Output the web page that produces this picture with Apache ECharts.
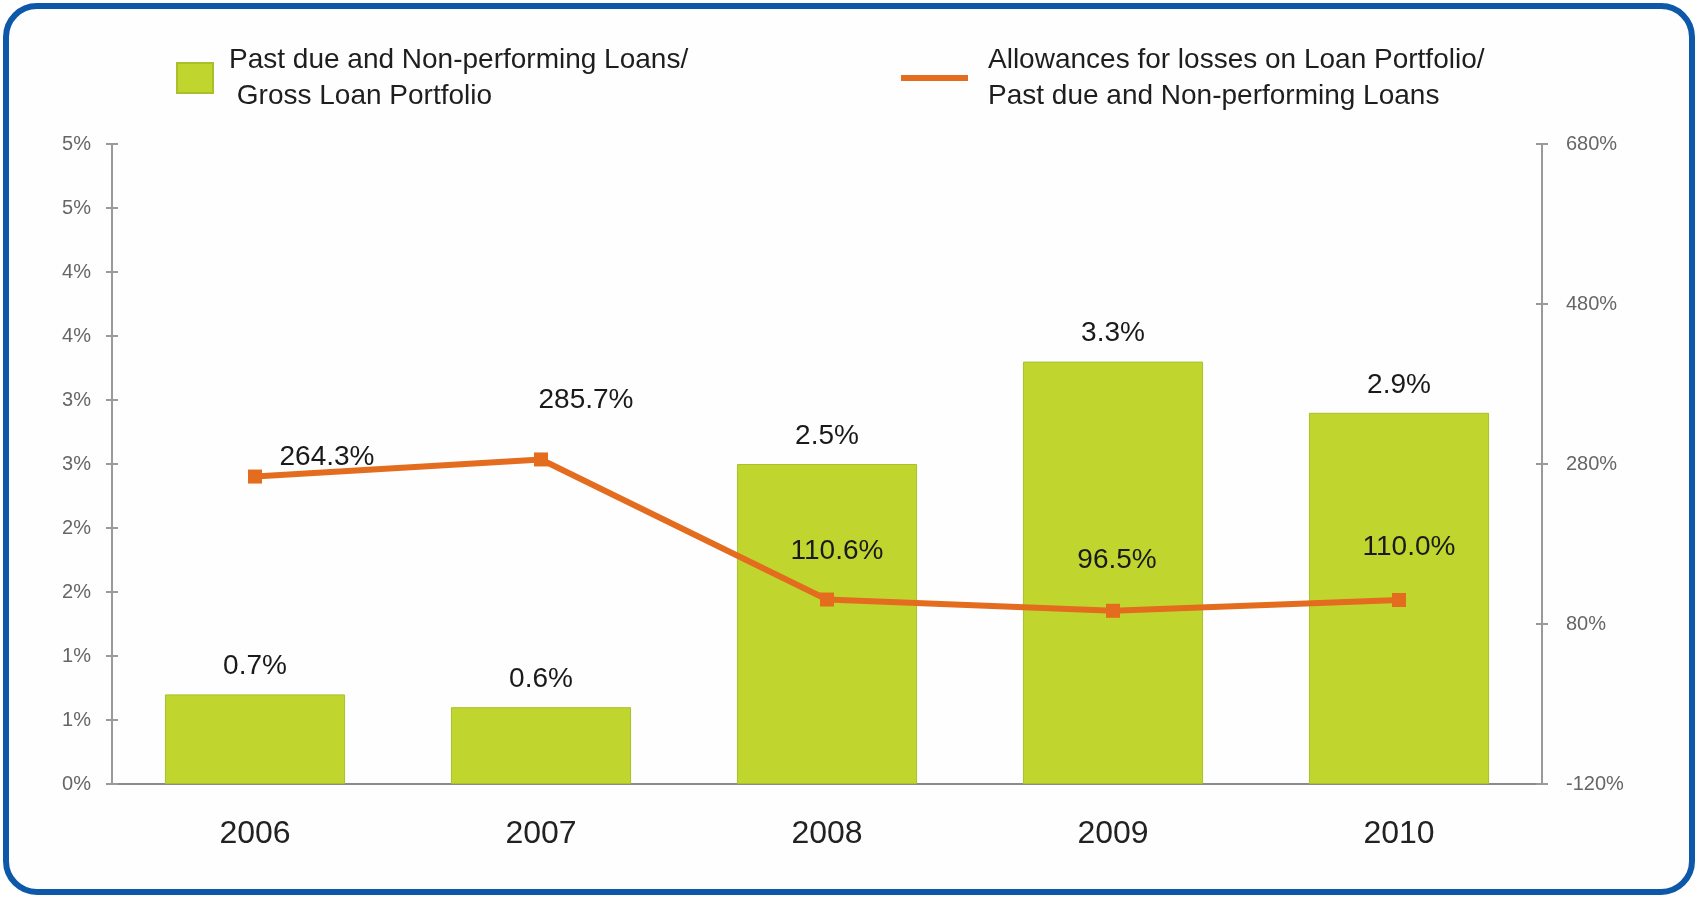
<!DOCTYPE html>
<html>
<head>
<meta charset="utf-8">
<title>Loan Portfolio Quality</title>
<script src="https://cdn.jsdelivr.net/npm/echarts@6/dist/echarts.min.js"></script>
<style>
  html, body { margin: 0; padding: 0; background: #ffffff; }
  #frame {
    position: absolute; left: 3px; top: 3px; width: 1692px; height: 892px;
    box-sizing: border-box; border: 6px solid #0D58A8; border-radius: 34px;
    background: #fefefe;
  }
  #chart { position: absolute; left: 0; top: 0; width: 1698px; height: 897px; }
</style>
</head>
<body>
<div id="frame"></div>
<div id="chart"></div>
<script>
// Years on the category axis
const years = ['2006', '2007', '2008', '2009', '2010'];
// Past due and non-performing loans / gross loan portfolio (%)
const pastDueRatio = [0.7, 0.6, 2.5, 3.3, 2.9];
// Allowances for losses / past due and non-performing loans (%)
const allowanceCoverage = [264.3, 285.7, 110.6, 96.5, 110.0];
// Tick labels of the left and right value axes
const leftTickLabels = ['0%', '1%', '1%', '2%', '2%', '3%', '3%', '4%', '4%', '5%', '5%'];
const rightTickLabels = ['-120%', '80%', '280%', '480%', '680%'];

// Label placement for the coverage line, relative to each point
const coverageLabelOffsets = [[72, -19], [45, -59], [10, -48], [4, -51], [10, -53]];

const barName = 'Past due and Non-performing Loans/\n Gross Loan Portfolio';
const lineName = 'Allowances for losses on Loan Portfolio/\nPast due and Non-performing Loans';
const FONT = '"Liberation Sans", Arial, sans-serif';

const chart = echarts.init(document.getElementById('chart'), null, { renderer: 'canvas' });

const leftAxisBase = { type: 'value', min: 0, max: 5, interval: 0.5, position: 'left' };
const rightAxisBase = { type: 'value', min: -120, max: 680, interval: 200, position: 'right' };

chart.setOption({
  animation: false,
  backgroundColor: 'transparent',
  textStyle: { fontFamily: FONT },
  legend: [
    {
      data: [barName],
      left: 171, top: 37,
      itemWidth: 36, itemHeight: 30,
      icon: 'rect',
      textStyle: { fontSize: 28, lineHeight: 36, color: '#1e1e1e', fontFamily: FONT, padding: [0, 0, 0, 11] }
    },
    {
      data: [lineName],
      left: 896, top: 37,
      itemWidth: 67, itemHeight: 6,
      icon: 'rect',
      textStyle: { fontSize: 28, lineHeight: 36, color: '#1e1e1e', fontFamily: FONT, padding: [0, 0, 0, 15] }
    }
  ],
  grid: { left: 112, right: 156, top: 144, bottom: 113, containLabel: false },
  xAxis: {
    type: 'category',
    data: years,
    axisLine: { lineStyle: { color: '#8a8a8a', width: 2 } },
    axisTick: { show: false },
    axisLabel: { fontSize: 32, color: '#222', margin: 34, fontFamily: FONT },
    splitLine: { show: false }
  },
  yAxis: [
    Object.assign({}, leftAxisBase, {
      axisLine: { show: true, lineStyle: { color: '#9a9a9a', width: 2 } },
      axisTick: { show: true, length: 6, lineStyle: { color: '#9a9a9a', width: 2 } },
      axisLabel: {
        fontSize: 20, color: '#666', margin: 21, fontFamily: FONT,
        formatter: (v) => leftTickLabels[Math.round(v / 0.5)]
      },
      splitLine: { show: false }
    }),
    Object.assign({}, rightAxisBase, {
      axisLine: { show: true, lineStyle: { color: '#9a9a9a', width: 2 } },
      axisTick: { show: true, length: 6, lineStyle: { color: '#9a9a9a', width: 2 } },
      axisLabel: {
        fontSize: 20, color: '#666', margin: 24, fontFamily: FONT,
        formatter: (v) => rightTickLabels[Math.round((v + 120) / 200)]
      },
      splitLine: { show: false }
    }),
    // inner halves of the tick marks, so each tick crosses its axis line
    Object.assign({}, leftAxisBase, {
      axisLine: { show: false },
      axisTick: { show: true, inside: true, length: 6, lineStyle: { color: '#9a9a9a', width: 2 } },
      axisLabel: { show: false },
      splitLine: { show: false }
    }),
    Object.assign({}, rightAxisBase, {
      axisLine: { show: false },
      axisTick: { show: true, inside: true, length: 6, lineStyle: { color: '#9a9a9a', width: 2 } },
      axisLabel: { show: false },
      splitLine: { show: false }
    })
  ],
  series: [
    {
      name: barName,
      type: 'bar',
      yAxisIndex: 0,
      barWidth: '63%',
      data: pastDueRatio,
      itemStyle: { color: '#C0D62E', borderColor: '#A9C02B', borderWidth: 1 },
      label: {
        show: true, position: 'top', distance: 14,
        fontSize: 28, color: '#1a1a1a', fontFamily: FONT,
        formatter: (p) => p.value.toFixed(1) + '%'
      },
      z: 2
    },
    {
      name: lineName,
      type: 'line',
      yAxisIndex: 1,
      data: allowanceCoverage.map((v, i) => ({
        value: v,
        label: { offset: coverageLabelOffsets[i] }
      })),
      symbol: 'rect',
      symbolSize: 14,
      lineStyle: { color: '#E46C1F', width: 6 },
      itemStyle: { color: '#E46C1F' },
      label: {
        show: true, position: 'inside',
        fontSize: 28, color: '#1a1a1a', fontFamily: FONT,
        formatter: (p) => p.value.toFixed(1) + '%'
      },
      z: 3
    }
  ]
});
</script>
</body>
</html>
